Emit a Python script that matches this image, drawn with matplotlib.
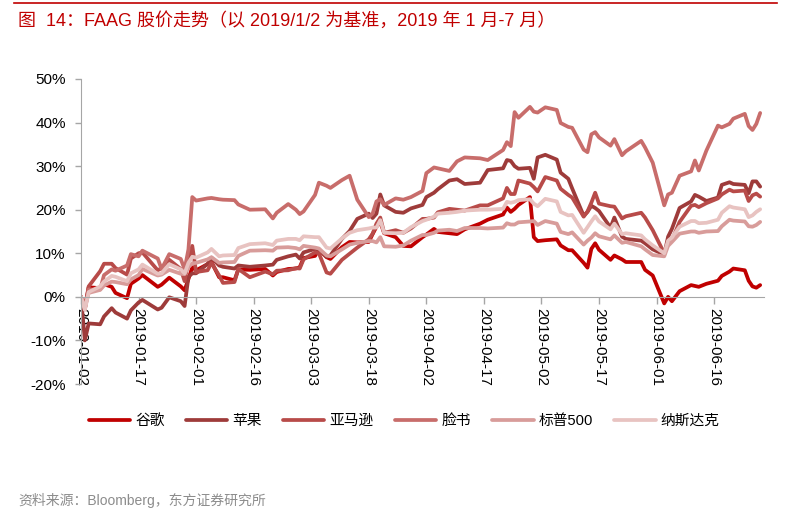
import pandas as pd
import matplotlib.pyplot as plt
from matplotlib.lines import Line2D
from matplotlib.ticker import FuncFormatter, MultipleLocator, FixedLocator, FixedFormatter
import matplotlib.dates as mdates

plt.rcParams['font.family'] = ['Liberation Sans', 'Noto Sans CJK SC']

# trading days (subset)
dates = (
    ['2019-01-' + d for d in ['02', '03', '04', '07', '08', '10', '11', '14', '15', '17', '18', '22', '23', '25', '28', '29', '30', '31']]
    + ['2019-02-' + d for d in ['01', '04', '05', '07', '08', '11', '12', '15', '19', '21', '22', '25', '27', '28']]
    + ['2019-03-' + d for d in ['01', '04', '05', '07', '08', '11', '13', '15', '18', '19', '20', '21', '22', '25', '27', '29']]
    + ['2019-04-' + d for d in ['01', '02', '04', '05', '08', '10', '12', '16', '18', '22', '23', '24', '25', '26', '29', '30']]
    + ['2019-05-' + d for d in ['01', '03', '06', '07', '09', '10', '13', '14', '15', '16', '17', '20', '21', '23', '24', '28', '29', '31']]
    + ['2019-06-' + d for d in ['03', '04', '05', '07', '10', '11', '12', '14', '17', '18', '20', '21', '24', '25', '26', '27', '28']]
)

# cumulative return vs 2019/1/2, %
google = [0, -2.8, 2.2, 2.0, 2.9, 2.3, 0.9, -0.3, 3.0, 4.2, 5.0, 2.3, 2.8, 4.4, 2.4, 1.5, 4.1, 6.8,
          6.1, 7.5, 8.0, 4.5, 4.5, 3.8, 6.3, 6.2, 6.4, 4.9, 5.7, 6.4, 6.5, 6.8,
          8.9, 9.4, 10.9, 9.1, 8.7, 11.4, 12.6, 12.5, 12.6, 14.4, 16.1, 17.2, 14.6, 13.7, 11.7, 11.6,
          13.7, 14.3, 15.6, 14.9, 14.6, 14.4, 15.5, 16.8, 17.7, 18.9, 20.5, 19.5, 20.2, 21.1, 22.9, 13.7,
          12.8, 13.0, 13.2, 11.8, 10.7, 10.7, 7.8, 6.7, 11.0, 12.3, 10.8, 8.5, 9.5, 8.6, 8.0, 8.0, 6.2, 4.9,
          -1.5, 0.0, -1.0, 1.3, 2.7, 2.5, 2.3, 3.0, 3.7, 4.8, 5.8, 6.5, 6.1, 3.7, 2.4, 2.1, 2.7]
apple = [0, -10.0, -6.1, -6.3, -4.5, -2.6, -3.6, -5.0, -3.1, -1.3, -0.7, -2.9, -2.5, -0.1, -1.0, -2.1, 4.6, 5.4,
         5.4, 7.6, 9.0, 7.2, 6.9, 6.5, 7.2, 6.9, 7.2, 7.4, 8.5, 9.3, 9.7, 8.8,
         10.2, 11.0, 10.8, 9.2, 9.5, 13.3, 15.1, 17.9, 19.1, 18.1, 19.1, 23.5, 21.0, 19.5, 19.3, 20.3,
         21.1, 22.9, 23.9, 24.7, 26.7, 27.0, 25.9, 26.2, 29.1, 29.5, 31.4, 31.2, 30.0, 29.4, 29.6, 27.1,
         32.0, 32.6, 31.5, 28.5, 27.1, 24.9, 18.6, 19.5, 20.9, 20.4, 19.7, 15.9, 18.2, 13.8, 13.3, 12.9, 12.3, 10.9,
         9.7, 13.8, 15.6, 20.4, 21.9, 23.4, 23.0, 22.0, 22.8, 25.7, 26.3, 25.9, 25.7, 23.8, 26.5, 26.5, 25.3]
amazon = [0, -2.5, 2.4, 5.9, 7.6, 7.6, 6.6, 5.1, 8.8, 10.0, 10.2, 6.1, 6.6, 8.5, 6.4, 3.6, 8.5, 11.7,
          5.7, 6.1, 7.8, 4.9, 3.2, 3.4, 6.4, 4.5, 5.8, 5.2, 6.0, 6.1, 6.6, 6.5,
          8.6, 10.2, 10.0, 5.6, 5.3, 8.5, 9.9, 11.3, 13.2, 14.5, 16.8, 18.2, 14.7, 15.3, 14.7, 15.7,
          17.9, 17.9, 18.2, 19.4, 20.2, 20.0, 19.8, 21.0, 21.0, 22.6, 25.0, 23.6, 23.6, 26.7, 26.0, 25.2,
          24.2, 27.5, 26.7, 24.8, 23.4, 22.8, 18.4, 19.6, 21.6, 23.9, 21.4, 20.8, 20.7, 18.0, 18.5, 19.3, 18.2, 15.3,
          10.0, 12.4, 13.0, 17.2, 20.9, 21.1, 20.6, 21.5, 22.6, 23.5, 24.6, 24.2, 24.4, 22.0, 23.3, 23.7, 23.0]
facebook = [0, -2.9, 1.7, 1.7, 5.0, 6.3, 6.0, 7.2, 9.8, 9.3, 10.6, 8.8, 6.4, 9.8, 8.7, 6.3, 10.9, 22.9,
            22.1, 22.6, 22.7, 22.4, 22.3, 22.2, 21.2, 20.0, 20.1, 18.0, 19.3, 21.3, 20.0, 19.0,
            19.6, 23.4, 26.2, 25.5, 25.0, 26.8, 27.8, 22.3, 18.3, 19.1, 21.9, 22.4, 21.1, 22.6, 22.3, 22.9,
            24.3, 28.4, 29.7, 29.5, 28.9, 31.1, 32.0, 31.8, 31.4, 33.7, 35.5, 34.6, 42.4, 41.1, 43.6, 42.5,
            42.3, 43.5, 42.9, 39.9, 39.0, 38.8, 33.8, 33.2, 37.3, 37.8, 36.6, 34.7, 36.2, 32.5, 33.4, 35.8, 34.3, 30.8,
            21.0, 23.5, 23.9, 27.8, 28.8, 31.3, 29.0, 33.6, 39.3, 38.9, 39.7, 40.9, 42.0, 39.2, 38.3, 39.7, 42.2]
sp500 = [0, -2.5, 0.9, 1.6, 2.6, 3.5, 3.4, 2.9, 4.0, 5.0, 6.4, 4.9, 5.1, 6.2, 5.3, 5.2, 6.8, 7.7,
         7.8, 8.6, 9.1, 7.8, 7.9, 8.0, 9.4, 10.6, 10.7, 10.6, 11.3, 11.4, 11.2, 10.9,
         11.7, 11.3, 11.1, 9.5, 9.3, 10.9, 12.0, 12.4, 12.8, 12.8, 12.5, 13.7, 11.6, 11.5, 11.8, 12.9,
         14.2, 14.2, 14.7, 15.2, 15.4, 15.1, 15.8, 15.8, 15.7, 15.9, 16.9, 16.6, 16.6, 17.1, 17.3, 17.4,
         16.5, 17.4, 16.8, 14.9, 14.4, 14.8, 12.0, 12.9, 13.6, 14.6, 13.9, 13.2, 14.1, 12.4, 12.6, 11.6, 10.9, 9.6,
         9.3, 11.7, 12.6, 14.5, 15.0, 15.0, 14.7, 15.0, 15.1, 16.2, 17.7, 17.5, 17.3, 16.2, 16.1, 16.5, 17.2]
nasdaq = [0, -3.0, 1.1, 2.4, 3.5, 4.8, 4.6, 3.6, 5.4, 6.3, 7.4, 5.3, 5.4, 7.5, 6.3, 5.4, 7.8, 9.2,
          9.0, 10.2, 11.0, 9.3, 9.5, 9.6, 11.2, 12.1, 12.3, 11.9, 12.9, 13.3, 13.3, 13.0,
          13.9, 13.7, 13.7, 11.3, 11.1, 13.4, 14.7, 15.3, 15.7, 15.9, 15.9, 17.6, 14.7, 14.6, 14.7, 16.0,
          17.4, 17.7, 18.4, 19.1, 19.3, 19.5, 19.8, 20.0, 20.0, 20.2, 21.8, 21.6, 21.8, 22.2, 22.4, 21.4,
          20.8, 22.5, 21.9, 19.5, 18.7, 18.8, 14.7, 16.0, 17.3, 18.5, 17.3, 15.5, 16.8, 14.4, 14.6, 14.1, 13.2, 11.8,
          10.0, 12.9, 13.6, 16.1, 17.4, 17.4, 16.9, 17.0, 17.7, 19.3, 20.8, 20.5, 20.1, 18.3, 18.7, 19.5, 20.1]

names = ['谷歌', '苹果', '亚马逊', '脸书', '标普500', '纳斯达克']
colors = ['#C00000', '#9E3B3A', '#B84B49', '#C86D6B', '#D89C9A', '#E8C3C1']

df = pd.DataFrame({'谷歌': google, '苹果': apple, '亚马逊': amazon,
                   '脸书': facebook, '标普500': sp500, '纳斯达克': nasdaq},
                  index=pd.to_datetime(dates))

W, H = 791, 525
fig = plt.figure(figsize=(W / 100, H / 100), dpi=100)
ax = fig.add_axes([81 / W, 1 - 384 / H, (764 - 81) / W, (384 - 79) / H])

xnum = mdates.date2num(df.index.to_pydatetime())
for name, c in zip(names, colors):
    ax.plot(xnum, df[name].values, color=c, lw=2.7, label=name,
            solid_joinstyle='round', solid_capstyle='round')

ax.set_ylim(-20, 50)
ax.yaxis.set_major_locator(MultipleLocator(10))
ax.yaxis.set_major_formatter(FuncFormatter(lambda v, p: f'{int(round(v))}%'))

ticks = pd.date_range('2019-01-02', '2019-06-29', freq='15D')
ax.set_xlim(mdates.date2num(pd.Timestamp('2019-01-02')), mdates.date2num(pd.Timestamp('2019-06-29')))
ax.xaxis.set_major_locator(FixedLocator(mdates.date2num(ticks.to_pydatetime())))
ax.xaxis.set_major_formatter(FixedFormatter([t.strftime('%Y-%m-%d') for t in ticks]))

for s in ['top', 'right']:
    ax.spines[s].set_visible(False)
ax.spines['left'].set_color('#A6A6A6')
ax.spines['bottom'].set_color('#A6A6A6')
ax.spines['bottom'].set_position(('data', 0))
ax.tick_params(axis='y', length=4, width=1, color='#A6A6A6', labelsize=11, pad=7)
ax.tick_params(axis='x', length=5, width=1, color='#A6A6A6', labelsize=11, pad=3,
               labelrotation=-90)
for lab in ax.get_xticklabels():
    lab.set_ha('center')
    lab.set_va('top')

fig.legend(loc='center', bbox_to_anchor=(0.511, 1 - 421 / H), ncol=6, frameon=False,
           fontsize=10.6, handlelength=2.8, handletextpad=0.35, columnspacing=1.45)

fig.add_artist(Line2D([14 / W, 777 / W], [1 - 3 / H, 1 - 3 / H], color='#C00000', lw=1.2))
fig.text(18 / W, 1 - 21 / H, '图  14：FAAG 股价走势（以 2019/1/2 为基准，2019 年 1 月-7 月）',
         color='#C00000', fontsize=13, va='center', ha='left')
fig.text(18 / W, 1 - 500 / H, '资料来源：Bloomberg，东方证券研究所',
         color='#8C8C8C', fontsize=10, va='center', ha='left')

fig.savefig('out.png', dpi=100)
